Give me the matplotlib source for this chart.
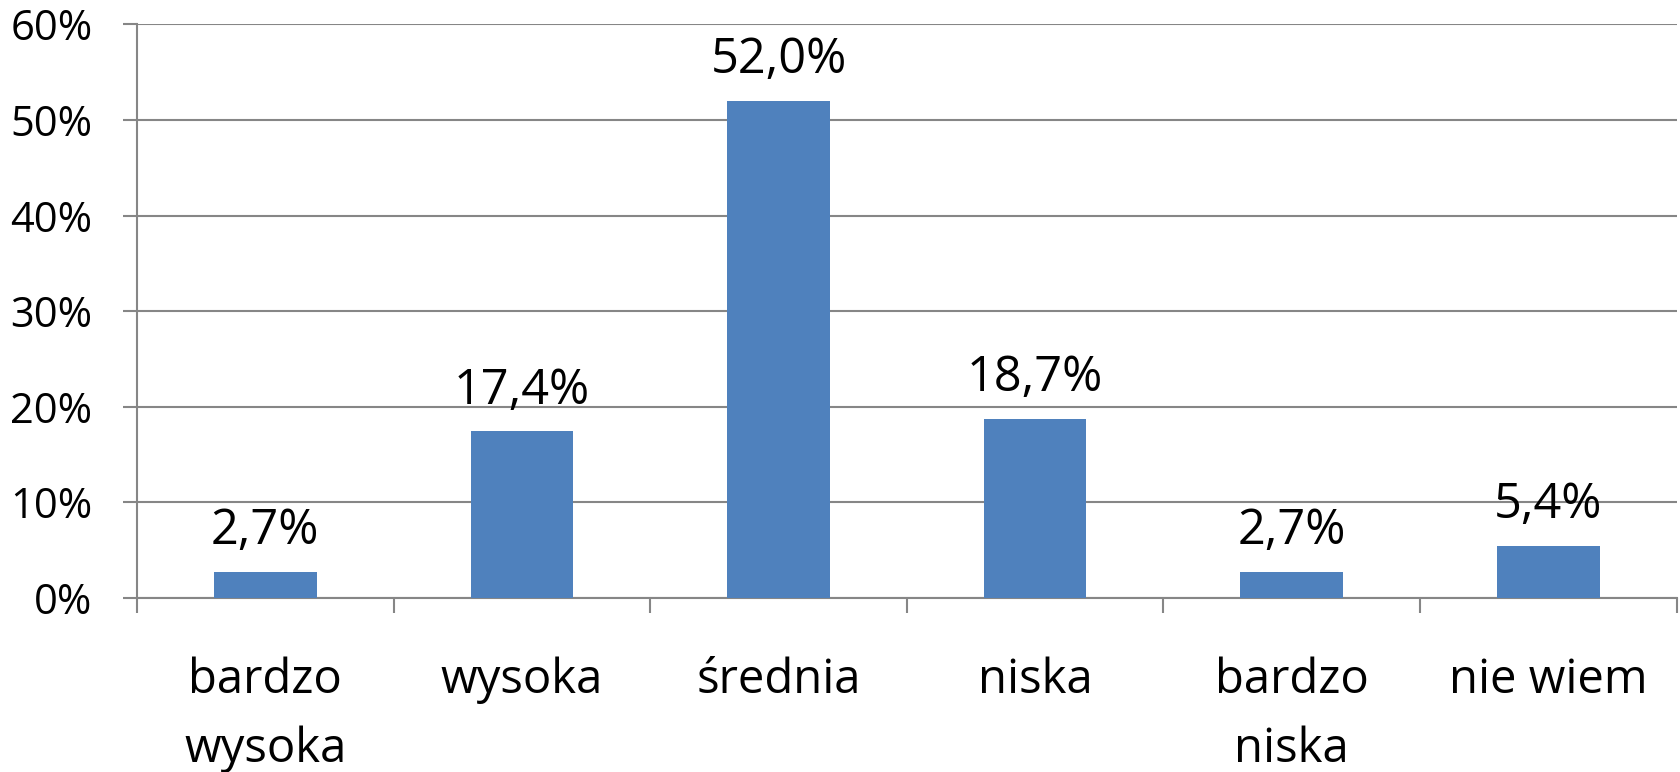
import numpy as np
import matplotlib.pyplot as plt

kategorie = ["bardzo\nwysoka", "wysoka", "średnia", "niska", "bardzo\nniska", "nie wiem"]
wartosci = [2.7, 17.4, 52.0, 18.7, 2.7, 5.4]
etykiety = ["2,7%", "17,4%", "52,0%", "18,7%", "2,7%", "5,4%"]
yticks = [0, 10, 20, 30, 40, 50, 60]

plt.rcParams['font.family'] = ['Open Sans', 'DejaVu Sans']

SZARY = "#868686"

fig = plt.figure(figsize=(16.8, 7.72), dpi=100)
ax = fig.add_axes([0.0815, 0.2258, 0.9165, 0.7425])

x = np.arange(len(kategorie))
ax.bar(x, wartosci, width=0.4, color="#4F81BD", zorder=3)

# etykiety wartosci nad slupkami
for xi, v, t in zip(x, wartosci, etykiety):
    ax.annotate(t, (xi, v), xytext=(0, 20), textcoords="offset points",
                ha="center", va="baseline", fontsize=35)

ax.set_xlim(-0.5, len(kategorie) - 0.5)
ax.set_ylim(0, 60)
ax.set_yticks(yticks)
ax.set_yticklabels([f"{v}%" for v in yticks], fontsize=30)
ax.yaxis.grid(True, color=SZARY, linewidth=1.5, zorder=0)

ax.set_xticks(x)
ax.set_xticklabels(kategorie, fontsize=34, linespacing=1.6)
ax.set_xticks(np.arange(len(kategorie) + 1) - 0.5, minor=True)
ax.tick_params(axis="x", which="major", length=0, pad=42)
ax.tick_params(axis="x", which="minor", length=11, width=1.5, color=SZARY, direction="out")
ax.tick_params(axis="y", length=10, width=1.5, color=SZARY, pad=22)

for s in ["top", "right"]:
    ax.spines[s].set_visible(False)
for s in ["left", "bottom"]:
    ax.spines[s].set_color(SZARY)
    ax.spines[s].set_linewidth(1.5)

fig.savefig("out.png", dpi=100)
